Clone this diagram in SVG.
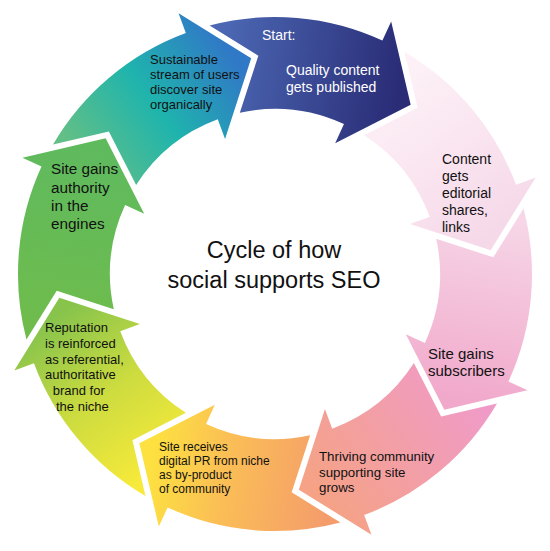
<svg xmlns="http://www.w3.org/2000/svg" xmlns:xlink="http://www.w3.org/1999/xlink" width="550" height="551" viewBox="0 0 550 551">
<style>
  text { font-family: "Liberation Sans", Arial, Helvetica, sans-serif; fill: #111; }
  .w { fill: #ffffff; }
  .title { font-size: 23.5px; text-anchor: middle; }
</style>
<defs>
  <path id="arrow" d="M -206.44 -153.08 A 257 257 0 0 1 -62.17 -249.37 L -67.25 -269.74 L 0 -217 L -34.83 -139.72 L -39.91 -160.10 A 165 165 0 0 0 -128.25 -103.82 L -149.50 -159.96 Z"/>
  <linearGradient id="g0" gradientUnits="userSpaceOnUse" x1="-175" y1="-125" x2="-15" y2="-215">
    <stop offset="0" stop-color="#62bf86"/><stop offset="0.5" stop-color="#1fb4ad"/><stop offset="1" stop-color="#3079c6"/>
  </linearGradient>
  <linearGradient id="g1" gradientUnits="userSpaceOnUse" x1="-175" y1="-125" x2="-15" y2="-215">
    <stop offset="0" stop-color="#4c68b4"/><stop offset="1" stop-color="#2a2c76"/>
  </linearGradient>
  <linearGradient id="g2" gradientUnits="userSpaceOnUse" x1="-175" y1="-125" x2="-15" y2="-215">
    <stop offset="0" stop-color="#fdf1f7"/><stop offset="1" stop-color="#f6d9e9"/>
  </linearGradient>
  <linearGradient id="g3" gradientUnits="userSpaceOnUse" x1="-175" y1="-125" x2="-15" y2="-215">
    <stop offset="0" stop-color="#f6d6e7"/><stop offset="1" stop-color="#f1a9cb"/>
  </linearGradient>
  <linearGradient id="g4" gradientUnits="userSpaceOnUse" x1="-175" y1="-125" x2="-15" y2="-215">
    <stop offset="0" stop-color="#f09bc7"/><stop offset="1" stop-color="#f5a287"/>
  </linearGradient>
  <linearGradient id="g5" gradientUnits="userSpaceOnUse" x1="-175" y1="-125" x2="-15" y2="-215">
    <stop offset="0" stop-color="#f49c6c"/><stop offset="0.6" stop-color="#fbbf55"/><stop offset="1" stop-color="#fde140"/>
  </linearGradient>
  <linearGradient id="g6" gradientUnits="userSpaceOnUse" x1="-175" y1="-125" x2="-15" y2="-215">
    <stop offset="0" stop-color="#f7ea3a"/><stop offset="0.5" stop-color="#cddc3f"/><stop offset="1" stop-color="#88c44c"/>
  </linearGradient>
  <linearGradient id="g7" gradientUnits="userSpaceOnUse" x1="-175" y1="-125" x2="-15" y2="-215">
    <stop offset="0" stop-color="#6fbc4c"/><stop offset="1" stop-color="#5fba5e"/>
  </linearGradient>
</defs>

<g id="connectors"></g>

<g id="node-organic">
  <use xlink:href="#arrow" href="#arrow" fill="url(#g0)" transform="translate(275,274) rotate(-6.3)"/>
  <text font-size="13"><tspan x="150" y="64.3">Sustainable</tspan><tspan x="150" y="79.3">stream of users</tspan><tspan x="150" y="94.3">discover site</tspan><tspan x="150" y="109.3">organically</tspan></text>
</g>

<g id="node-start">
  <use xlink:href="#arrow" href="#arrow" fill="url(#g1)" transform="translate(275,274) rotate(38.7)"/>
  <text class="w" font-size="14" x="262" y="40">Start:</text>
  <text class="w" font-size="14"><tspan x="286" y="75">Quality content</tspan><tspan x="286" y="92">gets published</tspan></text>
</g>

<g id="node-shares">
  <use xlink:href="#arrow" href="#arrow" fill="url(#g2)" transform="translate(275,274) rotate(83.7)"/>
  <text font-size="14"><tspan x="442" y="164">Content</tspan><tspan x="442" y="181">gets</tspan><tspan x="442" y="198">editorial</tspan><tspan x="442" y="215">shares,</tspan><tspan x="442" y="232">links</tspan></text>
</g>

<g id="node-subscribers">
  <use xlink:href="#arrow" href="#arrow" fill="url(#g3)" transform="translate(275,274) rotate(128.7)"/>
  <text font-size="15"><tspan x="428" y="359">Site gains</tspan><tspan x="428" y="376">subscribers</tspan></text>
</g>

<g id="node-community">
  <use xlink:href="#arrow" href="#arrow" fill="url(#g4)" transform="translate(275,274) rotate(173.7)"/>
  <text font-size="13.3"><tspan x="319" y="461">Thriving community</tspan><tspan x="319" y="476.5">supporting site</tspan><tspan x="319" y="492">grows</tspan></text>
</g>

<g id="node-pr">
  <use xlink:href="#arrow" href="#arrow" fill="url(#g5)" transform="translate(275,274) rotate(218.7)"/>
  <text font-size="12"><tspan x="159" y="450.5">Site receives</tspan><tspan x="159" y="465">digital PR from niche</tspan><tspan x="159" y="479.3">as by-product</tspan><tspan x="159" y="493.3">of community</tspan></text>
</g>

<g id="node-reputation">
  <use xlink:href="#arrow" href="#arrow" fill="url(#g6)" transform="translate(275,274) rotate(263.7)"/>
  <text font-size="13"><tspan x="45" y="332.3">Reputation</tspan><tspan x="45" y="348">is reinforced</tspan><tspan x="45" y="363.6">as referential,</tspan><tspan x="45" y="379.2">authoritative</tspan><tspan x="52.7" y="395">brand for</tspan><tspan x="56" y="410.6">the niche</tspan></text>
</g>

<g id="node-authority">
  <use xlink:href="#arrow" href="#arrow" fill="url(#g7)" transform="translate(275,274) rotate(308.7)"/>
  <text font-size="15.3"><tspan x="51" y="174">Site gains</tspan><tspan x="51" y="192.5">authority</tspan><tspan x="51" y="211">in the</tspan><tspan x="51" y="229">engines</tspan></text>
</g>

<g id="node-center">
  <text class="title"><tspan x="274" y="258">Cycle of how</tspan><tspan x="274" y="288.3">social supports SEO</tspan></text>
</g>
</svg>
